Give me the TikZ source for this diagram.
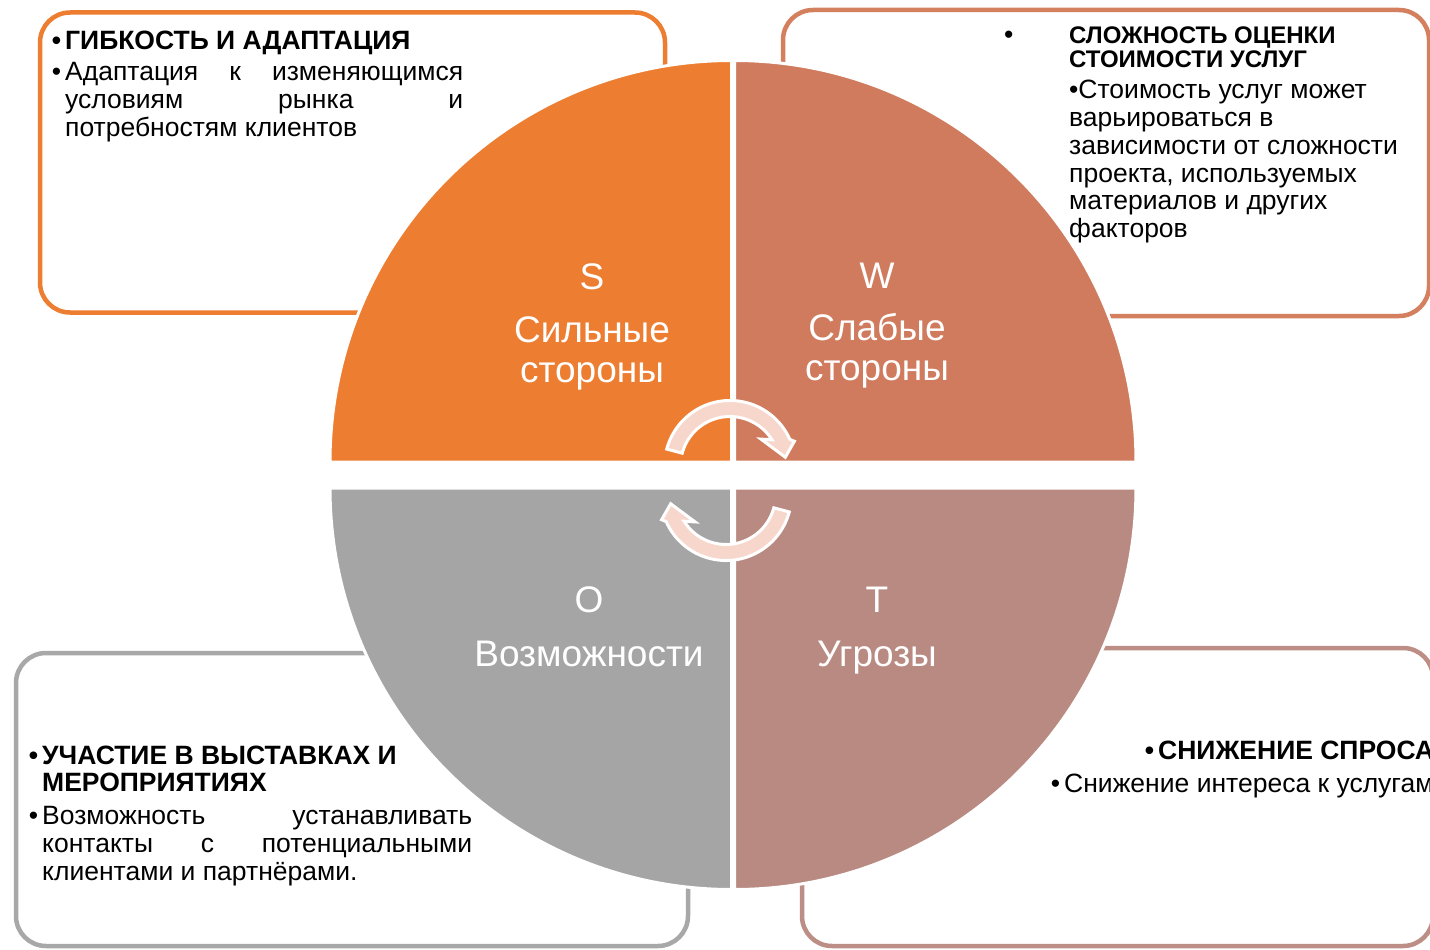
\documentclass[tikz,border=0pt]{standalone}
\usepackage{fontspec}
\setmainfont{Liberation Sans}
\definecolor{cS}{HTML}{ED7D31}
\definecolor{cW}{HTML}{D07B5D}
\definecolor{cO}{HTML}{A5A5A5}
\definecolor{cT}{HTML}{B98A82}
\definecolor{bS}{HTML}{ED7D31}
\definecolor{bW}{HTML}{D4805F}
\definecolor{bO}{HTML}{A8A8A8}
\definecolor{bT}{HTML}{BC8E86}
\definecolor{arrowpink}{HTML}{F7D7CC}
\newcommand\bodyfnt{\fontsize{26.5}{29}\selectfont}
\newcommand\smallhdfnt{\fontsize{24}{26}\selectfont}
\newcommand\labfnt{\fontsize{37}{40}\selectfont}
\newcommand\bul{\llap{•\hspace{4pt}}}
\begin{document}
\begin{tikzpicture}[x=1pt,y=1pt,
  box/.style={rounded corners=30pt, line width=4.5pt, fill=white},
  quad/.style={draw=white, line width=3pt},
  arr/.style={fill=arrowpink, draw=white, line width=3pt, line join=miter},
  lab/.style={text=white, font=\labfnt, anchor=base, inner sep=0pt},
  txt/.style={text=black, font=\bodyfnt, anchor=base west, inner sep=0pt},
  hd/.style={txt, font=\bodyfnt\bfseries},
  shd/.style={txt, font=\smallhdfnt\bfseries}]
\useasboundingbox (0,0) rectangle (1430,-950);
\clip (0,0) rectangle (1430,-950);
\fill[white] (0,0) rectangle (1430,-950);

% boxes
\draw[box, draw=bS] (40,-12.5) rectangle (665,-312.5);
\draw[box, draw=bW] (783,-10) rectangle (1429,-316);
\draw[box, draw=bO] (16,-653) rectangle (688,-946);
\draw[box, draw=bT] (802,-648) rectangle (1433,-946);

% quadrants
\filldraw[quad, fill=cS] (731.5,-462) -- ++(-401.5,0) arc[start angle=180, end angle=90, radius=401.5] -- cycle;
\filldraw[quad, fill=cW] (734.5,-462) -- ++(0,401.5) arc[start angle=90, end angle=0, radius=401.5] -- cycle;
\filldraw[quad, fill=cO] (731.5,-488) -- ++(-401.5,0) arc[start angle=180, end angle=270, radius=401.5] -- cycle;
\filldraw[quad, fill=cT] (734.5,-488) -- ++(401.5,0) arc[start angle=0, end angle=-90, radius=401.5] -- cycle;

% quadrant labels
\node[lab] (sL) at (592,-289) {S};
\node[lab] (sA) at (592,-342) {Сильные};
\node[lab] (sB) at (592,-382) {стороны};
\node[lab] (wL) at (877,-288) {W};
\node[lab] (wA) at (877,-340) {Слабые};
\node[lab] (wB) at (877,-380) {стороны};
\node[lab] (oL) at (589,-612) {O};
\node[lab] (oA) at (589,-666) {Возможности};
\node[lab] (tL) at (877,-612) {T};
\node[lab] (tA) at (877,-666) {Угрозы};

% circular arrows
\coordinate (ct) at (730,-466);
\coordinate (cb) at (726,-495);
\filldraw[arr] ([shift={(165:65.5)}]ct) arc[start angle=165, end angle=24, radius=65.5]
  -- ([shift={(21:69)}]ct) -- ([shift={(9:56)}]ct) -- ([shift={(41:41)}]ct)
  -- ([shift={(32:49.5)}]ct) arc[start angle=32, end angle=165, radius=49.5] -- cycle;
\filldraw[arr] ([shift={(345:65.5)}]cb) arc[start angle=345, end angle=204, radius=65.5]
  -- ([shift={(201:69)}]cb) -- ([shift={(189:56)}]cb) -- ([shift={(221:41)}]cb)
  -- ([shift={(212:49.5)}]cb) arc[start angle=212, end angle=345, radius=49.5] -- cycle;

% S box text
\node[hd] (s1) at (65,-50) {\bul ГИБКОСТЬ И АДАПТАЦИЯ};
\node[txt] (s2) at (65,-81) {\bul\makebox[398pt][s]{Адаптация к изменяющимся}};
\node[txt] (s3) at (65,-108) {\makebox[398pt][s]{условиям рынка и}};
\node[txt] (s4) at (65,-136) {потребностям клиентов};

% W box text
\node[txt] (w0) at (1004,-44) {•};
\node[shd] (w1) at (1069,-44) {СЛОЖНОСТЬ ОЦЕНКИ};
\node[shd] (w2) at (1069,-67) {СТОИМОСТИ УСЛУГ};
\node[txt] (w3) at (1069,-99) {•Стоимость услуг может};
\node[txt] (w4) at (1069,-126) {варьироваться в};
\node[txt] (w5) at (1069,-154) {зависимости от сложности};
\node[txt] (w6) at (1069,-182) {проекта, используемых};
\node[txt] (w7) at (1069,-209) {материалов и других};
\node[txt] (w8) at (1069,-237) {факторов};

% O box text
\node[hd] (o1) at (42,-764) {\bul УЧАСТИЕ В ВЫСТАВКАХ И};
\node[hd] (o2) at (42,-791) {МЕРОПРИЯТИЯХ};
\node[txt] (o3) at (42,-824) {\bul\makebox[430pt][s]{Возможность устанавливать}};
\node[txt] (o4) at (42,-852) {\makebox[430pt][s]{контакты с потенциальными}};
\node[txt] (o5) at (42,-880) {клиентами и партнёрами.};

% T box text
\node[hd] (t1) at (1158,-759) {\bul СНИЖЕНИЕ СПРОСА};
\node[txt] (t2) at (1064,-792) {\bul Снижение интереса к услугам};
\end{tikzpicture}
\end{document}
